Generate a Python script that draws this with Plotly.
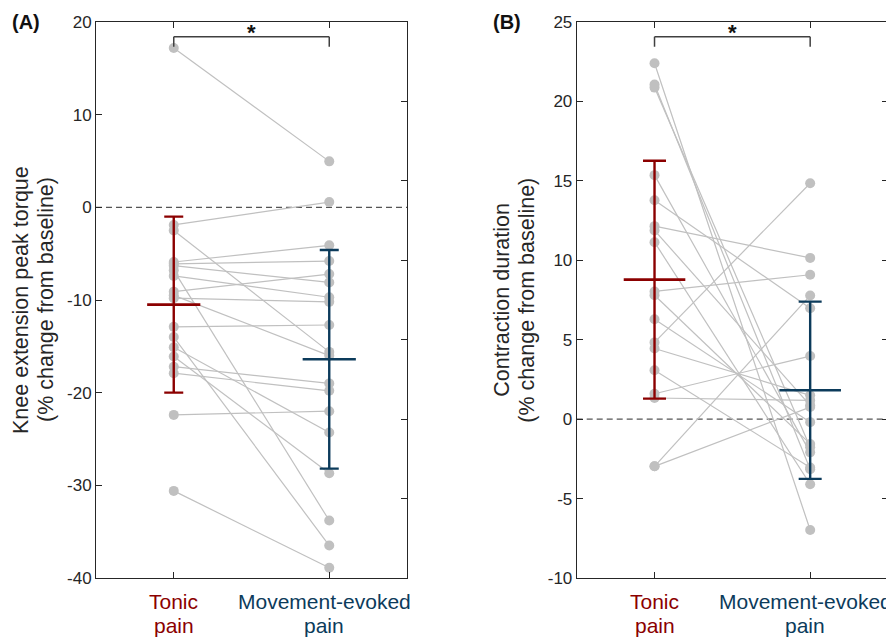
import plotly.graph_objects as go

# ---------------- data ----------------
categories = ["Tonic\npain", "Movement-evoked\npain"]
cat_colors = ["#8B0000", "#0C3B5B"]
cat_x = [1, 2]

# Panel A: knee extension peak torque (% change from baseline), paired subjects
a_tonic = [17.2, -1.9, -2.5, -5.9, -6.1, -6.3, -6.8, -7.4, -9.1, -9.5, -9.8,
           -12.9, -14.0, -15.1, -16.1, -17.2, -17.9, -22.4, -30.6]
a_move = [4.96, 0.57, -15.6, -4.1, -5.8, -8.1, -33.8, -9.7, -7.2, -16.0, -10.2,
          -12.7, -36.5, -24.3, -28.7, -19.0, -19.8, -22.0, -38.9]
a_mean = [-10.5, -16.4]
a_sd = [9.5, 11.8]

# Panel B: contraction duration (% change from baseline), paired subjects
b_tonic = [22.4, 21.06, 20.87, 15.36, 13.78, 12.15, 11.88, 11.14, 8.04, 7.8,
           6.29, 4.83, 4.45, 3.08, 1.60, 1.33, -2.97, -2.97]
b_move = [-6.98, -3.15, -1.77, -2.09, 6.98, 10.15, 0.87, -4.1, 9.09, -1.56,
          -0.19, 14.85, 1.5, -3.04, 3.97, 1.18, 7.78, 0.76]
b_mean = [8.78, 1.82]
b_sd = [7.49, 5.58]

a_ticks = [-40, -30, -20, -10, 0, 10, 20]
b_ticks = [-10, -5, 0, 5, 10, 15, 20, 25]
a_right_ticks = [-10, -5, 0, 5, 10, 15, 20, 25]

a_title = ["Knee extension peak torque", "(% change from baseline)"]
b_title = ["Contraction duration", "(% change from baseline)"]
panel_labels = ["(A)", "(B)"]

# ---------------- figure ----------------
# the page body adds an 8px margin, so the figure is sized to fit the window
OFF = 8
W, H = 894 - OFF, 637 - OFF
ML, MR, MT, MB = 96 - OFF, 6, 22 - OFF, 59
pw = W - ML - MR
ph = H - MT - MB

def px_x(p):  # p: pixel in the window
    return (p - OFF - ML) / pw

def px_y(p):
    return (H - MB - (p - OFF)) / ph

GRAY = "#C0C0C0"
AX = "#262626"

fig = go.Figure()

def add_panel(tonic, move, mean, sd, xa, ya, cap, meanw):
    lx, ly = [], []
    for t, m in zip(tonic, move):
        lx += [cat_x[0], cat_x[1], None]
        ly += [t, m, None]
    fig.add_trace(go.Scatter(x=lx, y=ly, mode="lines", xaxis=xa, yaxis=ya,
                             line=dict(color=GRAY, width=1.2), hoverinfo="skip"))
    fig.add_trace(go.Scatter(x=[cat_x[0]] * len(tonic) + [cat_x[1]] * len(move),
                             y=tonic + move, mode="markers", xaxis=xa, yaxis=ya,
                             marker=dict(color=GRAY, size=10, line=dict(width=0))))
    for i in range(2):
        fig.add_trace(go.Scatter(
            x=[cat_x[i]], y=[mean[i]], mode="markers", xaxis=xa, yaxis=ya,
            marker=dict(symbol="line-ew", size=meanw,
                        line=dict(color=cat_colors[i], width=2.6)),
            error_y=dict(type="data", array=[sd[i]], visible=True,
                         color=cat_colors[i], thickness=2.4, width=cap)))

add_panel(a_tonic, a_move, a_mean, a_sd, "x", "y", 9.5, 38)
add_panel(b_tonic, b_move, b_mean, b_sd, "x2", "y2", 11.5, 44)

# dummy trace so the secondary (right) axis of panel A is drawn
fig.add_trace(go.Scatter(x=[None], y=[None], xaxis="x", yaxis="y3",
                         mode="markers", showlegend=False))

xdomA = [0, px_x(407)]
xdomB = [px_x(576.7), 1]

common_x = dict(range=[0.5, 2.5], tickvals=cat_x, showticklabels=False,
                ticks="inside", ticklen=6, tickcolor=AX, tickwidth=1,
                showline=True, linecolor=AX, linewidth=1, mirror="ticks",
                showgrid=False, zeroline=False, fixedrange=True)
common_y = dict(ticks="inside", ticklen=6, tickcolor=AX, tickwidth=1,
                showline=True, linecolor=AX, linewidth=1,
                showgrid=False, zeroline=False,
                tickfont=dict(family="Liberation Sans, Arial", size=17, color=AX))

fig.update_layout(
    width=W, height=H, autosize=False,
    margin=dict(l=ML, r=MR, t=MT, b=MB),
    paper_bgcolor="white", plot_bgcolor="white",
    showlegend=False,
    font=dict(family="Liberation Sans, Arial", color=AX),
    xaxis=dict(domain=xdomA, anchor="y", **common_x),
    xaxis2=dict(domain=xdomB, anchor="y2", **common_x),
    yaxis=dict(domain=[0, 1], anchor="x", range=[-40, 20], tickvals=a_ticks,
               ticktext=[str(v) for v in a_ticks], mirror=True, **common_y),
    yaxis3=dict(overlaying="y", anchor="x", side="right", range=[-10, 25],
                tickvals=a_right_ticks, showticklabels=False, ticks="inside",
                ticklen=6, tickcolor=AX, showline=False, showgrid=False,
                zeroline=False),
    yaxis2=dict(domain=[0, 1], anchor="x2", range=[-10, 25], tickvals=b_ticks,
                ticktext=[str(v) for v in b_ticks], mirror="ticks", **common_y),
)

shapes = []
annotations = []
for xa, ya, left_px, title, lab in [("x", "y", 96, a_title, panel_labels[0]),
                                    ("x2", "y2", 576.7, b_title, panel_labels[1])]:
    # zero reference line
    shapes.append(dict(type="line", xref=f"{xa} domain", yref=ya, x0=0, x1=1,
                       y0=0, y1=0, layer="below",
                       line=dict(color="#555555", width=1.2, dash="6px,4px")))
    # significance bracket
    yb, yt = px_y(46.7), px_y(36.7)
    dref = f"{ya} domain"
    for (x0, y0, x1, y1) in [(cat_x[0], yb, cat_x[0], yt),
                             (cat_x[0], yt, cat_x[1], yt),
                             (cat_x[1], yt, cat_x[1], yb)]:
        shapes.append(dict(type="line", xref=xa, yref=dref, x0=x0, x1=x1,
                           y0=y0, y1=y1, line=dict(color="#404040", width=1.5)))
    annotations.append(dict(text="<b>*</b>", xref=xa, yref=dref, x=1.5, y=px_y(32),
                            yanchor="middle", xanchor="center", showarrow=False,
                            font=dict(size=22, color="#111111")))
    # y-axis title (two lines)
    for k, line in enumerate(title):
        annotations.append(dict(text=line, textangle=-90, xref="paper", yref="paper",
                                x=px_x(left_px - 75 + 25 * k), y=0.5,
                                xanchor="center", yanchor="middle", showarrow=False,
                                font=dict(size=21.5, color=AX)))
    # panel label
    annotations.append(dict(text=f"<b>{lab}</b>", xref="paper", yref="paper",
                            x=px_x(left_px - 86), y=1, xanchor="left",
                            yanchor="middle", showarrow=False,
                            font=dict(size=20, color="#111111")))
    # category labels
    for i, cat in enumerate(categories):
        for k, line in enumerate(cat.split("\n")):
            annotations.append(dict(text=line, xref=xa, yref="paper", x=cat_x[i],
                                    y=px_y(601 + 24 * k), xanchor="center",
                                    xshift=-5 if i == 1 else 0,
                                    yanchor="middle", showarrow=False,
                                    font=dict(size=21, color=cat_colors[i])))

fig.update_layout(shapes=shapes, annotations=annotations)
fig.write_html("out.html")
